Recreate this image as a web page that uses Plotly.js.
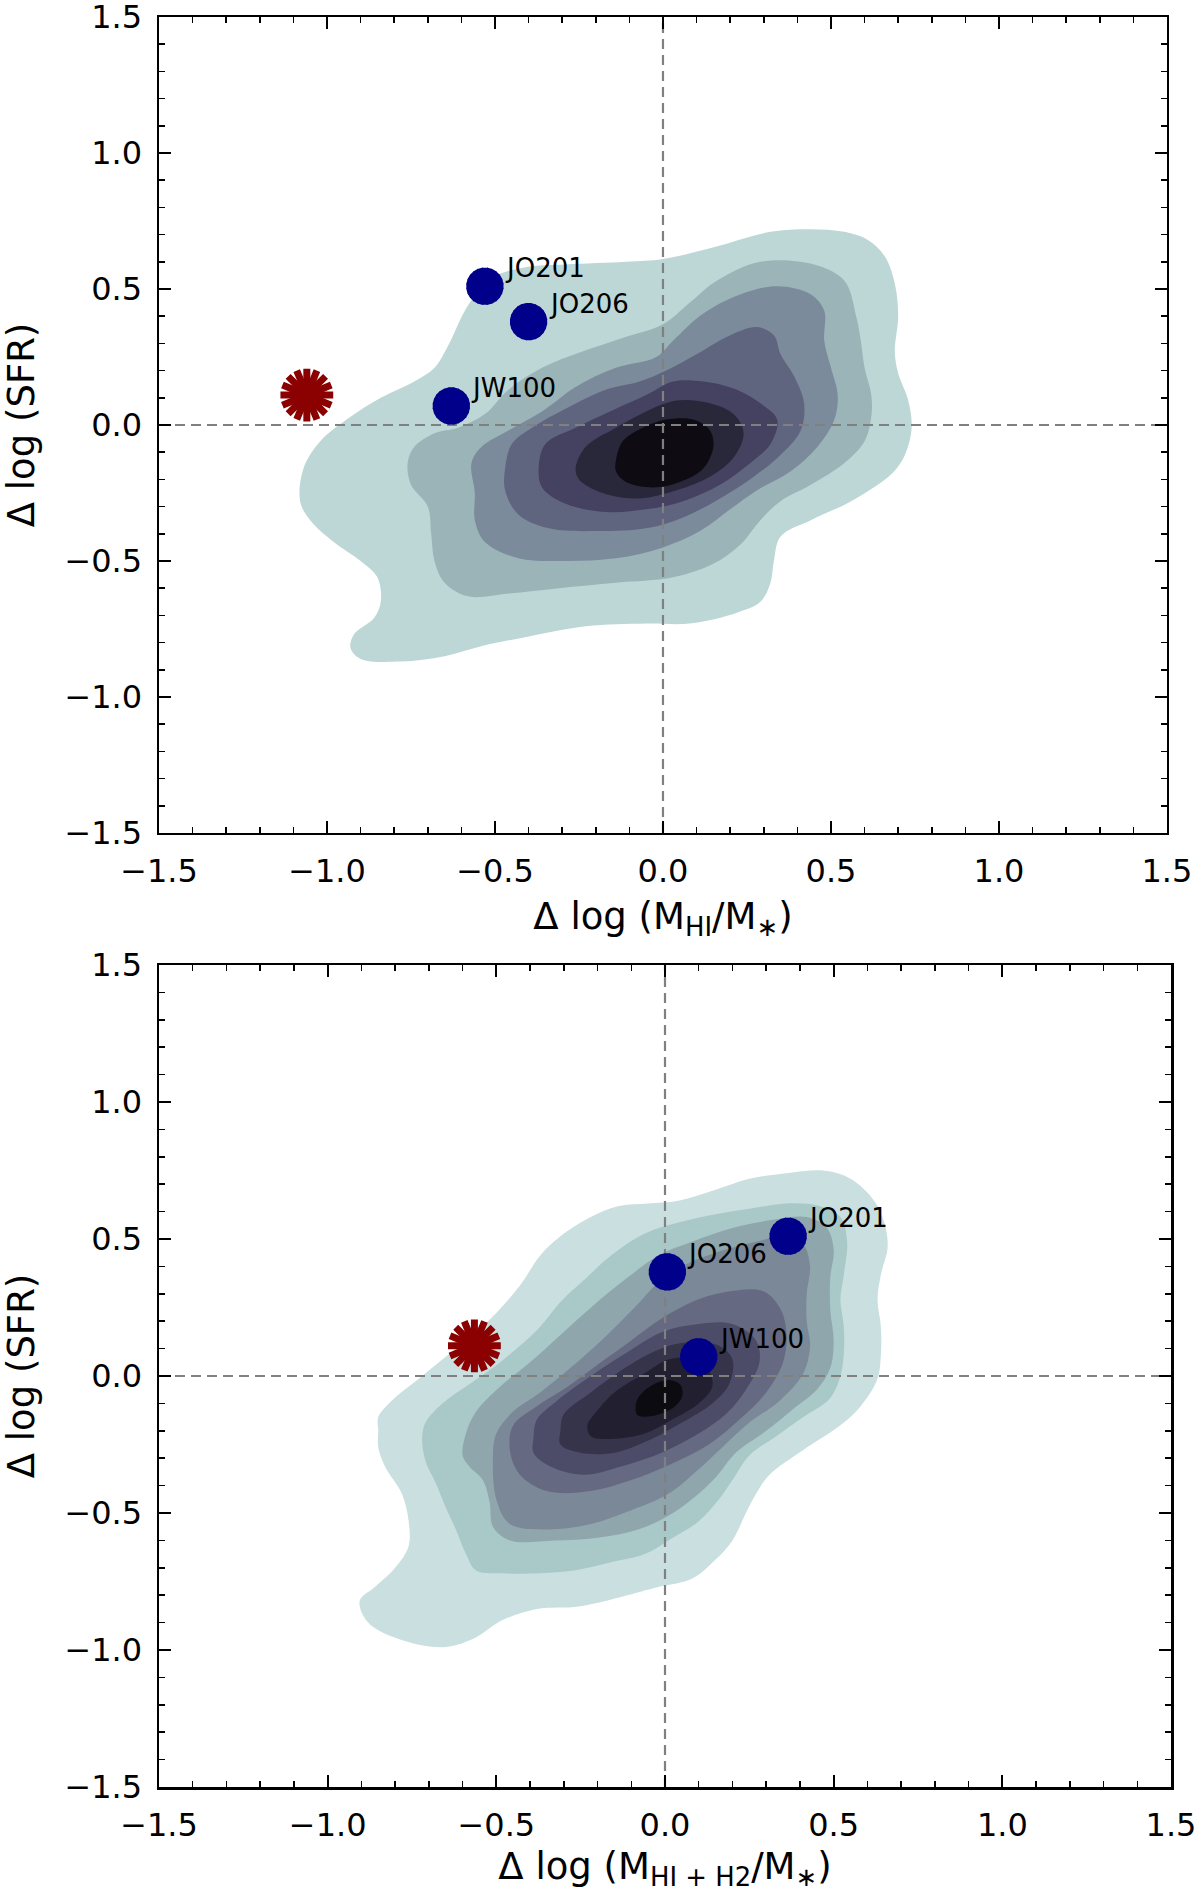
<!DOCTYPE html>
<html>
<head>
<meta charset="utf-8">
<script src="https://cdn.plot.ly/plotly-3.0.1.min.js"></script>
<style>
  html, body { margin: 0; padding: 0; background: #fff; }
  #chart { width: 1200px; height: 1896px; }
</style>
</head>
<body>
<div id="chart"></div>
<script>
/* Delta SFR vs Delta gas fraction — KDE contours with the three jellyfish + the red outlier */

// galaxies (same SFR offset in both panels)
const GALAXIES = ['JO201', 'JO206', 'JW100'];
const SFR_OFFSET = [0.51, 0.38, 0.07];
const HI_OFFSET = [-0.53, -0.40, -0.63];
const HIH2_OFFSET = [0.365, 0.007, 0.10];

const RED_SFR = [0.11];
const RED_HI = [-1.06];
const RED_HIH2 = [-0.565];

// filled density levels, outermost first (HI)
const HI_L1 = [[-0.64,0.29],[-0.58,0.44],[-0.51,0.54],[-0.41,0.58],[-0.29,0.59],[-0.11,0.60],[0.00,0.61],[0.14,0.65],[0.32,0.71],[0.44,0.72],[0.54,0.71],[0.61,0.68],[0.66,0.62],[0.69,0.52],[0.70,0.40],[0.69,0.27],[0.70,0.19],[0.73,0.09],[0.74,-0.01],[0.72,-0.11],[0.68,-0.18],[0.56,-0.28],[0.44,-0.35],[0.35,-0.41],[0.33,-0.50],[0.32,-0.58],[0.29,-0.65],[0.22,-0.69],[0.08,-0.73],[-0.05,-0.73],[-0.23,-0.74],[-0.41,-0.78],[-0.53,-0.81],[-0.65,-0.85],[-0.78,-0.87],[-0.90,-0.86],[-0.93,-0.82],[-0.92,-0.77],[-0.86,-0.71],[-0.84,-0.65],[-0.85,-0.56],[-0.90,-0.50],[-0.98,-0.43],[-1.05,-0.35],[-1.08,-0.28],[-1.07,-0.16],[-1.02,-0.06],[-0.93,0.03],[-0.84,0.10],[-0.74,0.16],[-0.68,0.21]];
const HI_L2 = [[-0.76,-0.14],[-0.74,-0.08],[-0.68,-0.03],[-0.61,-0.01],[-0.53,0.04],[-0.46,0.13],[-0.36,0.21],[-0.24,0.27],[-0.12,0.32],[0.00,0.37],[0.08,0.45],[0.16,0.53],[0.29,0.60],[0.45,0.59],[0.54,0.53],[0.575,0.40],[0.59,0.30],[0.60,0.21],[0.62,0.11],[0.62,0.03],[0.60,-0.06],[0.54,-0.14],[0.44,-0.22],[0.35,-0.28],[0.29,-0.35],[0.23,-0.44],[0.15,-0.51],[0.03,-0.56],[-0.14,-0.58],[-0.31,-0.60],[-0.46,-0.62],[-0.58,-0.63],[-0.65,-0.58],[-0.68,-0.50],[-0.69,-0.40],[-0.70,-0.30],[-0.75,-0.22]];
const HI_L3 = [[-0.57,-0.14],[-0.54,-0.08],[-0.46,-0.02],[-0.36,0.05],[-0.26,0.14],[-0.14,0.21],[-0.02,0.25],[0.03,0.31],[0.12,0.41],[0.23,0.48],[0.34,0.51],[0.44,0.48],[0.48,0.42],[0.48,0.31],[0.50,0.21],[0.52,0.11],[0.51,0.02],[0.46,-0.08],[0.38,-0.17],[0.28,-0.24],[0.20,-0.31],[0.11,-0.39],[0.00,-0.45],[-0.14,-0.49],[-0.29,-0.50],[-0.43,-0.49],[-0.53,-0.43],[-0.56,-0.35],[-0.56,-0.25]];
const HI_L4 = [[-0.47,-0.16],[-0.45,-0.07],[-0.39,-0.01],[-0.29,0.06],[-0.17,0.13],[-0.07,0.16],[0.01,0.20],[0.10,0.26],[0.20,0.33],[0.28,0.36],[0.33,0.33],[0.35,0.26],[0.39,0.18],[0.42,0.08],[0.41,-0.02],[0.35,-0.11],[0.27,-0.19],[0.17,-0.27],[0.06,-0.34],[-0.05,-0.38],[-0.19,-0.39],[-0.34,-0.38],[-0.43,-0.33],[-0.47,-0.24]];
const HI_L5 = [[-0.37,-0.16],[-0.35,-0.07],[-0.26,-0.01],[-0.14,0.06],[-0.05,0.11],[0.03,0.16],[0.12,0.16],[0.22,0.13],[0.29,0.08],[0.34,0.02],[0.32,-0.07],[0.26,-0.14],[0.17,-0.22],[0.06,-0.28],[-0.05,-0.31],[-0.17,-0.32],[-0.29,-0.29],[-0.36,-0.23]];
const HI_L6 = [[-0.26,-0.16],[-0.23,-0.08],[-0.14,-0.01],[-0.05,0.05],[0.04,0.09],[0.14,0.08],[0.21,0.04],[0.24,-0.03],[0.21,-0.12],[0.14,-0.19],[0.04,-0.24],[-0.07,-0.27],[-0.18,-0.25],[-0.25,-0.20]];
const HI_L7 = [[-0.14,-0.13],[-0.12,-0.06],[-0.06,-0.01],[0.01,0.02],[0.09,0.02],[0.14,-0.02],[0.15,-0.08],[0.12,-0.16],[0.05,-0.21],[-0.03,-0.23],[-0.11,-0.21],[-0.14,-0.17]];

// same for the bottom panel (HI + H2)
const H2_L1 = [[-0.85,-0.20],[-0.85,-0.15],[-0.81,-0.09],[-0.73,-0.01],[-0.65,0.07],[-0.56,0.16],[-0.50,0.23],[-0.43,0.33],[-0.37,0.44],[-0.31,0.51],[-0.22,0.58],[-0.14,0.62],[-0.05,0.63],[0.04,0.64],[0.15,0.68],[0.25,0.72],[0.36,0.74],[0.47,0.75],[0.55,0.72],[0.62,0.64],[0.65,0.56],[0.66,0.47],[0.64,0.37],[0.63,0.28],[0.64,0.18],[0.64,0.08],[0.63,-0.01],[0.58,-0.11],[0.52,-0.18],[0.41,-0.27],[0.31,-0.36],[0.27,-0.43],[0.24,-0.50],[0.20,-0.60],[0.15,-0.67],[0.08,-0.74],[-0.02,-0.77],[-0.25,-0.84],[-0.38,-0.85],[-0.48,-0.89],[-0.57,-0.96],[-0.66,-0.99],[-0.79,-0.96],[-0.88,-0.90],[-0.905,-0.82],[-0.86,-0.77],[-0.80,-0.70],[-0.76,-0.62],[-0.76,-0.53],[-0.78,-0.43],[-0.83,-0.33],[-0.85,-0.26]];
const H2_L2 = [[-0.72,-0.23],[-0.71,-0.17],[-0.66,-0.10],[-0.58,-0.03],[-0.51,0.03],[-0.43,0.11],[-0.37,0.18],[-0.31,0.27],[-0.24,0.35],[-0.16,0.44],[-0.06,0.52],[0.04,0.56],[0.15,0.59],[0.25,0.61],[0.36,0.63],[0.46,0.62],[0.52,0.58],[0.54,0.49],[0.53,0.37],[0.52,0.28],[0.53,0.18],[0.53,0.08],[0.52,0.00],[0.49,-0.08],[0.41,-0.15],[0.33,-0.22],[0.25,-0.29],[0.20,-0.38],[0.16,-0.45],[0.10,-0.53],[0.01,-0.60],[-0.06,-0.65],[-0.16,-0.68],[-0.27,-0.71],[-0.37,-0.72],[-0.48,-0.72],[-0.56,-0.71],[-0.59,-0.65],[-0.62,-0.56],[-0.65,-0.48],[-0.68,-0.39],[-0.71,-0.31]];
const H2_L3 = [[-0.60,-0.29],[-0.59,-0.21],[-0.56,-0.13],[-0.49,-0.04],[-0.40,0.05],[-0.31,0.15],[-0.21,0.26],[-0.11,0.36],[-0.02,0.44],[0.08,0.49],[0.20,0.54],[0.32,0.57],[0.42,0.58],[0.48,0.54],[0.50,0.46],[0.49,0.36],[0.49,0.24],[0.50,0.13],[0.49,0.03],[0.45,-0.05],[0.38,-0.12],[0.30,-0.20],[0.21,-0.28],[0.15,-0.37],[0.08,-0.45],[0.01,-0.51],[-0.08,-0.56],[-0.20,-0.59],[-0.33,-0.60],[-0.46,-0.60],[-0.51,-0.55],[-0.52,-0.46],[-0.54,-0.38],[-0.58,-0.33]];
const H2_L4 = [[-0.51,-0.29],[-0.50,-0.21],[-0.45,-0.13],[-0.37,-0.06],[-0.28,0.03],[-0.18,0.14],[-0.09,0.25],[-0.02,0.34],[0.05,0.40],[0.15,0.45],[0.27,0.49],[0.36,0.51],[0.41,0.48],[0.43,0.40],[0.42,0.30],[0.42,0.20],[0.43,0.11],[0.41,0.01],[0.34,-0.09],[0.25,-0.17],[0.17,-0.26],[0.10,-0.34],[0.01,-0.43],[-0.10,-0.49],[-0.22,-0.54],[-0.35,-0.56],[-0.46,-0.54],[-0.50,-0.45]];
const H2_L5 = [[-0.46,-0.27],[-0.45,-0.18],[-0.38,-0.11],[-0.29,-0.04],[-0.19,0.05],[-0.10,0.13],[-0.01,0.21],[0.10,0.28],[0.20,0.31],[0.29,0.31],[0.34,0.25],[0.36,0.16],[0.35,0.05],[0.30,-0.06],[0.22,-0.16],[0.13,-0.25],[0.02,-0.32],[-0.10,-0.38],[-0.22,-0.42],[-0.35,-0.42],[-0.43,-0.36]];
const H2_L6 = [[-0.39,-0.23],[-0.38,-0.16],[-0.32,-0.09],[-0.22,0.00],[-0.12,0.08],[-0.01,0.16],[0.10,0.19],[0.20,0.19],[0.27,0.13],[0.28,0.05],[0.24,-0.05],[0.18,-0.14],[0.10,-0.21],[-0.01,-0.28],[-0.13,-0.33],[-0.24,-0.36],[-0.34,-0.33],[-0.39,-0.28]];
const H2_L7 = [[-0.31,-0.20],[-0.30,-0.14],[-0.22,-0.06],[-0.13,0.02],[-0.03,0.09],[0.05,0.12],[0.16,0.11],[0.20,0.06],[0.19,-0.03],[0.14,-0.10],[0.05,-0.17],[-0.04,-0.23],[-0.15,-0.28],[-0.25,-0.28],[-0.31,-0.25]];
const H2_L8 = [[-0.23,-0.18],[-0.21,-0.14],[-0.15,-0.06],[-0.06,0.01],[0.01,0.06],[0.08,0.065],[0.13,0.02],[0.14,-0.04],[0.10,-0.10],[0.02,-0.16],[-0.06,-0.21],[-0.16,-0.23],[-0.22,-0.22]];
const H2_L9 = [[-0.087,-0.11],[-0.077,-0.075],[-0.037,-0.033],[0.012,-0.015],[0.046,-0.033],[0.051,-0.075],[0.022,-0.118],[-0.037,-0.146],[-0.082,-0.142]];

// bone_r-like fills
const HI_COLORS = ['#bdd7d7', '#9ab4b8', '#7b8b9c', '#60657f', '#444260', '#29273a', '#0e0c12'];
const H2_COLORS = ['#cadfdf', '#a9c8c8', '#8fa6ad', '#7a8898', '#656a82', '#4c4b68', '#35344a', '#222030', '#0c0b10'];

const AXIS_SPAN = [-1.5, 1.5];
const ZERO_LINE = [0, 0];

const FONT = 'DejaVu Sans, Verdana, sans-serif';
const BLUE = '#00008b';
const RED = '#8b0000';

function levelTraces(levels, colors, xa, ya) {
    return levels.map((pts, i) => {
        const ring = pts.concat([pts[0]]);
        return {
            type: 'scatter', mode: 'lines',
            x: ring.map(p => p[0]), y: ring.map(p => p[1]),
            fill: 'toself', fillcolor: colors[i],
            line: { width: 0, shape: 'spline', smoothing: 1, color: colors[i] },
            xaxis: xa, yaxis: ya, hoverinfo: 'skip', showlegend: false
        };
    });
}

function dashTraces(xa, ya) {
    const line = { color: '#808080', width: 2.2, dash: '10px,6px' };
    return [
        { type: 'scatter', mode: 'lines', x: AXIS_SPAN, y: ZERO_LINE, line, xaxis: xa, yaxis: ya, hoverinfo: 'skip', showlegend: false },
        { type: 'scatter', mode: 'lines', x: ZERO_LINE, y: AXIS_SPAN, line, xaxis: xa, yaxis: ya, hoverinfo: 'skip', showlegend: false }
    ];
}

// filled disc with short spokes -> scalloped blue star
function starTraces(xs, ys, xa, ya) {
    const out = [{
        type: 'scatter', mode: 'markers', x: xs, y: ys,
        marker: { symbol: 'circle', size: 28, color: BLUE, line: { width: 0 } },
        xaxis: xa, yaxis: ya, hoverinfo: 'skip', showlegend: false
    }];
    [0, 15, 30].forEach(a => out.push({
        type: 'scatter', mode: 'markers', x: xs, y: ys,
        marker: { symbol: 'asterisk-open', size: 31, angle: a, color: BLUE, line: { color: BLUE, width: 5.5 } },
        xaxis: xa, yaxis: ya, hoverinfo: 'skip', showlegend: false
    }));
    return out;
}

// 16-spoke open star for the outlier
function redTraces(xs, ys, xa, ya) {
    return [0, 22.5].map(a => ({
        type: 'scatter', mode: 'markers', x: xs, y: ys,
        marker: { symbol: 'asterisk-open', size: 44, angle: a, color: RED, line: { color: RED, width: 7 } },
        xaxis: xa, yaxis: ya, hoverinfo: 'skip', showlegend: false
    }));
}

function labelNotes(xs, ys, xref, yref) {
    return GALAXIES.map((g, i) => ({
        x: xs[i], y: ys[i], xref, yref, text: g,
        xanchor: 'left', yanchor: 'middle', xshift: 18, yshift: 18,
        showarrow: false, font: { family: FONT, size: 26, color: '#000' }
    }));
}

function axisBase(extra) {
    return Object.assign({
        range: AXIS_SPAN, autorange: false,
        showline: true, linecolor: '#000', linewidth: 2.5, mirror: 'ticks',
        ticks: 'inside', ticklen: 12, tickwidth: 2, tickcolor: '#000',
        tick0: 0, dtick: 0.5, tickformat: '.1f', ticklabeloverflow: 'allow',
        tickfont: { family: FONT, size: 32, color: '#000' },
        minor: { dtick: 0.1, ticks: 'inside', ticklen: 6, tickwidth: 1.5, tickcolor: '#000', showgrid: false },
        showgrid: false, zeroline: false, fixedrange: true
    }, extra);
}

const traces = []
    .concat(levelTraces([HI_L1, HI_L2, HI_L3, HI_L4, HI_L5, HI_L6, HI_L7], HI_COLORS, 'x', 'y'))
    .concat(dashTraces('x', 'y'))
    .concat(redTraces(RED_HI, RED_SFR, 'x', 'y'))
    .concat(starTraces(HI_OFFSET, SFR_OFFSET, 'x', 'y'))
    .concat(levelTraces([H2_L1, H2_L2, H2_L3, H2_L4, H2_L5, H2_L6, H2_L7, H2_L8, H2_L9], H2_COLORS, 'x2', 'y2'))
    .concat(dashTraces('x2', 'y2'))
    .concat(redTraces(RED_HIH2, RED_SFR, 'x2', 'y2'))
    .concat(starTraces(HIH2_OFFSET, SFR_OFFSET, 'x2', 'y2'));

const titleFont = { family: FONT, size: 37, color: '#000' };

const layout = {
    width: 1200, height: 1896,
    margin: { l: 159, r: 29, t: 17, b: 109 },
    paper_bgcolor: '#fff', plot_bgcolor: '#fff',
    showlegend: false,
    xaxis: axisBase({
        domain: [0, 0.996], anchor: 'y', ticklabelstandoff: 8,
        title: { text: 'Δ log (M<sub>HI</sub>/M<sub>∗</sub>)', font: titleFont, standoff: 14 }
    }),
    yaxis: axisBase({
        domain: [0.539, 1], anchor: 'x', ticklabelstandoff: 8,
        title: { text: 'Δ log (SFR)', font: titleFont, standoff: 20 }
    }),
    xaxis2: axisBase({
        domain: [0, 1], anchor: 'y2', ticklabelstandoff: 8,
        title: { text: 'Δ log (M<sub>HI + H2</sub>/M<sub>∗</sub>)', font: titleFont, standoff: 10 }
    }),
    yaxis2: axisBase({
        domain: [0, 0.4644], anchor: 'x2', ticklabelstandoff: 8,
        title: { text: 'Δ log (SFR)', font: titleFont, standoff: 20 }
    }),
    annotations: labelNotes(HI_OFFSET, SFR_OFFSET, 'x', 'y')
        .concat(labelNotes(HIH2_OFFSET, SFR_OFFSET, 'x2', 'y2'))
};

Plotly.newPlot('chart', traces, layout, { staticPlot: true, displayModeBar: false });
</script>
</body>
</html>
